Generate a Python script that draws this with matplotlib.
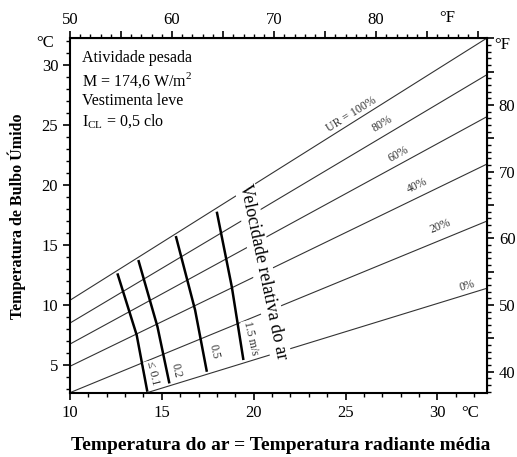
import matplotlib
matplotlib.use("Agg")
import matplotlib.pyplot as plt
from matplotlib.ticker import MultipleLocator, FuncFormatter

plt.rcParams['font.family'] = ['Liberation Serif', 'DejaVu Serif']
plt.rcParams['mathtext.fontset'] = 'custom'
plt.rcParams['mathtext.rm'] = 'Liberation Serif'

# Relative humidity lines: air temperature at start, wet bulb at start and at right edge
rh_labels = ['UR = 100%', '80%', '60%', '40%', '20%', '0%']
rh_t_start = [10.0, 10.0, 10.0, 10.0, 10.0, 14.2]
rh_wb_start = [10.4, 8.5, 6.75, 4.9, 2.7, 2.7]
rh_wb_end = [32.25, 29.2, 25.7, 21.75, 17.0, 11.4]
rh_label_t = [25.3, 27.0, 27.9, 28.9, 30.15, 31.6]
rh_label_wb = [25.9, 25.1, 22.6, 19.95, 16.6, 11.6]
rh_label_rot = [32, 31, 29, 26, 22, 17]

# Air velocity lines (top, middle, bottom points)
vel_labels = ['≤ 0.1', '0.2', '0.5', '1.5 m/s']
vel_t = [[12.58, 13.63, 14.21], [13.72, 14.76, 15.41],
         [15.76, 16.81, 17.45], [17.99, 18.81, 19.44]]
vel_wb = [[12.64, 7.5, 2.78], [13.75, 8.2, 3.47],
          [15.75, 9.58, 4.44], [17.78, 11.5, 5.42]]
vel_label_t = [14.5, 15.75, 17.85, 19.85]
vel_label_wb = [4.33, 4.58, 6.1, 7.25]

# labelled ticks on the Fahrenheit scales
top_f_labels = [50, 60, 70, 80]
right_f_labels = [40, 50, 60, 70, 80]

t_min, t_max = 10.0, 32.7
wb_min, wb_max = 2.67, 32.25

fig = plt.figure(figsize=(5.17, 4.57), dpi=100)
ax = fig.add_axes([0.1354, 0.140, 0.8066, 0.7768])
ax.set_xlim(t_min, t_max)
ax.set_ylim(wb_min, wb_max)

for t0, w0, w1 in zip(rh_t_start, rh_wb_start, rh_wb_end):
    ax.plot([t0, t_max], [w0, w1], color='#333333', lw=0.8, zorder=1)

for lab, x, y, r in zip(rh_labels, rh_label_t, rh_label_wb, rh_label_rot):
    ax.text(x, y, lab, rotation=r, fontsize=8.5, color='#333333',
            ha='center', va='center', rotation_mode='anchor')

for ts, ws in zip(vel_t, vel_wb):
    ax.plot(ts, ws, color='black', lw=1.8, zorder=2, solid_capstyle='butt')

for lab, x, y in zip(vel_labels, vel_label_t, vel_label_wb):
    ax.text(x, y, lab, rotation=-77, fontsize=8.5, color='#333333',
            ha='center', va='center', rotation_mode='anchor', zorder=3,
            bbox=dict(facecolor='white', edgecolor='none', pad=0.5))

ax.text(20.5, 12.8, 'Velocidade relativa do ar', rotation=-78, fontsize=13,
        ha='center', va='center', rotation_mode='anchor', zorder=3,
        bbox=dict(facecolor='white', edgecolor='none', pad=1.5))

ax.text(0.029, 0.965, 'Atividade pesada\nM = 174,6 W/m$^2$\nVestimenta leve\n'
        r'I$_{\mathrm{CL}}$ = 0,5 clo', transform=ax.transAxes,
        fontsize=11.5, va='top', ha='left', linespacing=1.25)

# axes styling
for s in ax.spines.values():
    s.set_linewidth(1.5)
ax.xaxis.set_major_locator(MultipleLocator(5))
ax.xaxis.set_minor_locator(MultipleLocator(1))
ax.yaxis.set_major_locator(MultipleLocator(5))
ax.yaxis.set_minor_locator(MultipleLocator(1))
ax.tick_params(which='major', length=5, width=1.2, labelsize=12, direction='out')
ax.tick_params(which='minor', length=3, width=1.0, direction='out')

c2f = lambda c: c * 1.8 + 32
f2c = lambda f: (f - 32) / 1.8


def only(vals):
    return FuncFormatter(lambda v, p: f'{v:.0f}' if round(v) in vals else '')


top = ax.secondary_xaxis('top', functions=(c2f, f2c))
top.xaxis.set_major_locator(MultipleLocator(5))
top.xaxis.set_minor_locator(MultipleLocator(1))
top.xaxis.set_major_formatter(only(top_f_labels))
top.tick_params(which='major', length=5, width=1.2, labelsize=12, pad=2)
top.tick_params(which='minor', length=3, width=1.0)

right = ax.secondary_yaxis('right', functions=(c2f, f2c))
right.yaxis.set_major_locator(MultipleLocator(5))
right.yaxis.set_minor_locator(MultipleLocator(1))
right.yaxis.set_major_formatter(only(right_f_labels))
right.tick_params(which='major', length=5, width=1.2, labelsize=12)
right.tick_params(which='minor', length=3, width=1.0)

# unit marks
fig.text(45 / 517, 1 - 43 / 457, '°C', fontsize=12, ha='center', va='center')
fig.text(502 / 517, 1 - 45 / 457, '°F', fontsize=12, ha='center', va='center')
fig.text(447 / 517, 1 - 18 / 457, '°F', fontsize=12, ha='center', va='center')
fig.text(470 / 517, 1 - 413 / 457, '°C', fontsize=12, ha='center', va='center')

fig.text(281 / 517, 1 - 445 / 457, 'Temperatura do ar = Temperatura radiante média',
         fontsize=14, fontweight='bold', ha='center', va='center')
fig.text(17 / 517, 1 - 216 / 457, 'Temperatura de Bulbo Úmido', rotation=90,
         fontsize=11.5, fontweight='bold', ha='center', va='center')

fig.savefig('out.png', dpi=100)
